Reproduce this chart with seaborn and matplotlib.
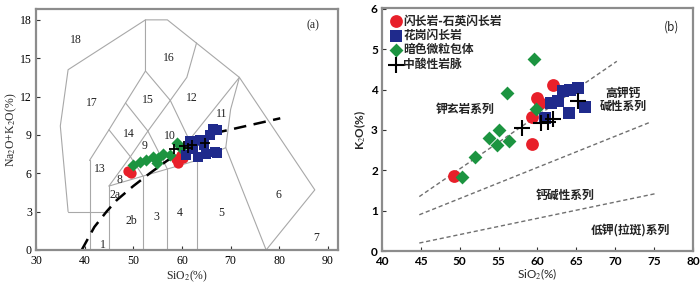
import matplotlib
matplotlib.use('Agg')
import matplotlib.pyplot as plt
import seaborn as sns

sns.set_theme(style='ticks')
plt.rcParams['font.family'] = ['Liberation Serif', 'Noto Sans CJK SC']
plt.rcParams['mathtext.fontset'] = 'stix'

# ---------------- (a) TAS diagram data ----------------
tas_red_x = [49.0, 49.5, 58.7, 59.2, 59.9, 60.3]
tas_red_y = [6.2, 6.0, 7.1, 6.8, 7.4, 7.2]
tas_green_x = [50.0, 51.4, 52.7, 54.1, 55.1, 54.8, 56.1, 57.5, 58.9, 59.9]
tas_green_y = [6.65, 6.85, 7.0, 7.3, 7.2, 6.8, 7.5, 7.4, 8.35, 8.0]
tas_blue_x = [60.9, 61.6, 62.2, 63.3, 63.7, 64.5, 65.0, 65.7, 66.4, 66.8, 67.3, 67.1]
tas_blue_y = [7.4, 8.5, 7.9, 7.3, 8.6, 8.2, 7.5, 9.0, 9.5, 7.7, 9.4, 7.6]
tas_cross_x = [58.4, 60.4, 61.3, 62.0, 64.8]
tas_cross_y = [7.9, 8.1, 8.0, 8.2, 8.4]

# Irvine & Baragar alkaline / subalkaline boundary
ib_x = [39.4, 42.0, 44.5, 46.6, 50.0, 53.4, 57.0, 62.0, 67.4, 80.2]
ib_y = [0.0, 1.8, 3.0, 3.9, 5.0, 6.0, 7.0, 7.9, 9.2, 10.3]

# field boundaries of the plutonic TAS diagram
tas_lines = [
    [(36.6, 3), (35, 9.7), (36.6, 14.1), (52.5, 18), (57, 18), (71.8, 13.5), (87.3, 4.7), (77.3, 0)],
    [(36.6, 3), (45, 3)],
    [(41, 0), (41, 7)],
    [(45, 0), (45, 5)],
    [(52, 0), (52, 5.78)],
    [(57, 0), (57, 6.33)],
    [(63, 0), (63, 7)],
    [(45, 5), (63, 7), (69, 8)],
    [(41, 7), (45, 9.4), (48.4, 11.5), (52.5, 14), (52.5, 18)],
    [(45, 5), (49.4, 7.3), (53, 9.3), (57.6, 11.7), (61, 13.5), (63, 16.2)],
    [(45, 9.4), (49.4, 7.3)],
    [(48.4, 11.5), (53, 9.3)],
    [(52.5, 14), (57.6, 11.7)],
    [(49.4, 7.3), (52, 5.78)],
    [(53, 9.3), (57, 6.33)],
    [(57.6, 11.7), (61.5, 8.6), (63, 7)],
    [(61.5, 8.6), (71.8, 13.5)],
    [(71.8, 13.5), (70, 11), (69, 8), (77.3, 0)],
]

field_names = ['18', '16', '17', '15', '12', '11', '14', '10', '9', '13',
               '8', '2a', '2b', '3', '4', '5', '6', '7', '1']
field_x = [38.3, 57.2, 41.4, 53.1, 62.0, 68.1, 49.0, 57.5, 52.4, 43.1,
           47.2, 46.2, 49.6, 54.8, 59.6, 68.1, 79.8, 87.6, 43.8]
field_y = [16.4, 15.0, 11.5, 11.7, 11.9, 10.6, 9.1, 8.9, 8.1, 6.3,
           5.5, 4.3, 2.3, 2.6, 2.9, 2.9, 4.3, 0.9, 0.4]

# ---------------- (b) K2O-SiO2 data ----------------
k_red_x = [49.2, 59.25, 59.25, 59.9, 60.3, 62.0]
k_red_y = [1.87, 3.32, 2.65, 3.79, 3.67, 4.12]
k_blue_x = [61.0, 61.8, 62.7, 63.3, 64.2, 65.2, 64.0, 66.1]
k_blue_y = [3.29, 3.67, 3.72, 3.96, 4.0, 4.03, 3.41, 3.57]
k_green_x = [59.5, 56.1, 55.0, 53.8, 54.75, 56.3, 52.0, 50.25, 59.8]
k_green_y = [4.76, 3.91, 3.0, 2.81, 2.63, 2.72, 2.32, 1.83, 3.52]
k_cross_x = [58.0, 60.5, 61.4, 62.0, 65.2]
k_cross_y = [3.06, 3.17, 3.2, 3.27, 3.72]

series_x = [[44.8, 70.2], [44.8, 74.6], [44.8, 75.1]]
series_y = [[1.35, 4.7], [0.9, 3.2], [0.2, 1.42]]

groups = ['闪长岩-石英闪长岩', '花岗闪长岩', '暗色微粒包体', '中酸性岩脉']
colors = ['#e8202a', '#1f2a8c', '#1c9440', 'black']

fig = plt.figure(figsize=(7, 2.86), dpi=100)
ax1 = fig.add_axes([0.0514, 0.126, 0.431, 0.843])
ax2 = fig.add_axes([0.5457, 0.122, 0.4443, 0.85])

# ---- panel a
for seg in tas_lines:
    sns.lineplot(x=[p[0] for p in seg], y=[p[1] for p in seg], sort=False,
                 estimator=None, color='#a8a8a8', lw=0.8, ax=ax1)
sns.lineplot(x=ib_x, y=ib_y, sort=False, estimator=None, color='black', lw=1.8,
             ax=ax1).lines[-1].set_dashes([5, 3])

for name, fx, fy in zip(field_names, field_x, field_y):
    ax1.text(fx, fy, name, ha='center', va='center', fontsize=8.5, color='#222222')
ax1.text(86.9, 17.6, '(a)', ha='center', va='center', fontsize=8.5)

sns.scatterplot(x=tas_red_x, y=tas_red_y, color=colors[0], marker='o', s=55,
                linewidth=0, ax=ax1, zorder=3)
sns.scatterplot(x=tas_green_x, y=tas_green_y, color=colors[2], marker='D', s=38,
                linewidth=0, ax=ax1, zorder=4)
sns.scatterplot(x=tas_blue_x, y=tas_blue_y, color=colors[1], marker='s', s=55,
                linewidth=0, ax=ax1, zorder=5)
sns.scatterplot(x=tas_cross_x, y=tas_cross_y, color='black', marker='+', s=50,
                linewidth=1.3, ax=ax1, zorder=6)

ax1.set_xlim(30, 92)
ax1.set_ylim(0, 18.86)
ax1.set_xticks(range(30, 91, 10))
ax1.set_yticks(range(0, 19, 3))
ax1.set_xlabel('SiO$_2$(%)', fontsize=8.5, labelpad=1)
ax1.set_ylabel('Na$_2$O+K$_2$O(%)', fontsize=8.5, labelpad=1)

# ---- panel b
for sx, sy in zip(series_x, series_y):
    sns.lineplot(x=sx, y=sy, estimator=None, color='#707070', lw=1.0,
                 ax=ax2).lines[-1].set_dashes([3, 2])

sns.scatterplot(x=k_red_x, y=k_red_y, color=colors[0], marker='o', s=85,
                linewidth=0, ax=ax2, label=groups[0], zorder=3)
sns.scatterplot(x=k_blue_x, y=k_blue_y, color=colors[1], marker='s', s=70,
                linewidth=0, ax=ax2, label=groups[1], zorder=4)
sns.scatterplot(x=k_green_x, y=k_green_y, color=colors[2], marker='D', s=50,
                linewidth=0, ax=ax2, label=groups[2], zorder=5)
sns.scatterplot(x=k_cross_x, y=k_cross_y, color='black', marker='+', s=120,
                linewidth=1.5, ax=ax2, label=groups[3], zorder=6)

cjk = ['Noto Sans CJK SC', 'DejaVu Sans']
ax2.text(50.7, 3.5, '钾玄岩系列', ha='center', va='center', fontsize=8.5,
         family=cjk, weight='bold', color='#222222')
ax2.text(71.0, 3.75, '高钾钙\n碱性系列', ha='center', va='center', fontsize=8.5,
         family=cjk, linespacing=1.05, weight='bold', color='#222222')
ax2.text(63.5, 1.38, '钙碱性系列', ha='center', va='center', fontsize=8.5,
         family=cjk, weight='bold', color='#222222')
ax2.text(71.9, 0.52, '低钾(拉斑)系列', ha='center', va='center', fontsize=8.5,
         family=cjk, weight='bold', color='#222222')
ax2.text(77.3, 5.56, '(b)', ha='center', va='center', fontsize=8.5, family=cjk)

leg = ax2.legend(loc='upper left', frameon=False,
                 prop={'family': cjk, 'size': 8.5, 'weight': 'bold'},
                 handletextpad=0.05, borderaxespad=0.3, labelspacing=0.12,
                 handlelength=1.2, borderpad=0.25)

ax2.set_xlim(40, 80)
ax2.set_ylim(0, 6.02)
ax2.set_xticks(range(40, 81, 5))
ax2.set_yticks(range(0, 7))
ax2.set_xlabel('SiO$_2$(%)', fontsize=8.5, labelpad=0, family='Lato')
ax2.set_ylabel('K$_2$O(%)', fontsize=8.5, labelpad=2, family='Lato', weight='bold')

for ax in (ax1, ax2):
    ax.tick_params(direction='in', length=3, width=0.8, labelsize=8.5, pad=2,
                   colors='#333333', labelcolor='black')
    ax.tick_params(axis='x', pad=3.5)
    ax.tick_params(axis='y', pad=3)
    for sp in ax.spines.values():
        sp.set_visible(True)
        sp.set_color('#8c8c8c')
        sp.set_linewidth(1.6)
for lab in ax2.get_xticklabels() + ax2.get_yticklabels():
    lab.set_family('Lato')
    lab.set_weight('bold')

fig.savefig('out.png', dpi=100)
